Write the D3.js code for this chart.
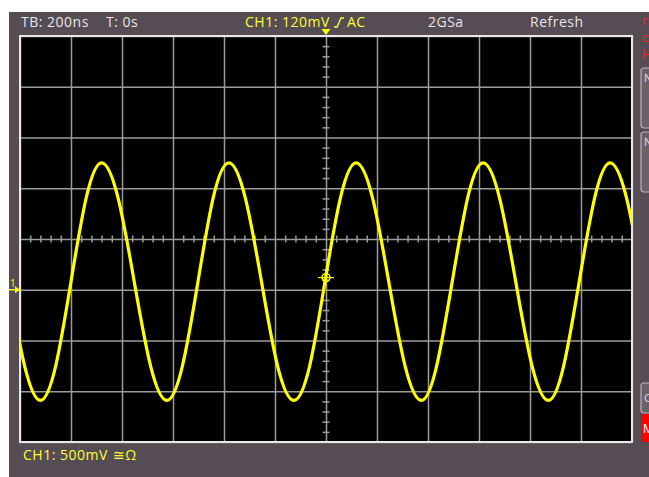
<!DOCTYPE html>
<html><head><meta charset="utf-8">
<script src="https://cdn.jsdelivr.net/npm/d3@7"></script>
<style>html,body{margin:0;padding:0;background:#fff;}svg{display:block;}</style>
</head><body>
<script>
// ---- data read from the screen ----
// time in ns relative to trigger, voltage in V relative to CH1 ground
const traceTime = [-1245,-1182,-1120,-1060,-1000,-940,-880,-816,-752,-688,-624,-563,-502,-442,-381,-317,-253,-190,-126,-64,-4,57,118,182,246,310,374,434,495,556,616,680,744,808,872,932,993,1054,1114,1178,1242];
const traceVolt = [0.08,-0.75,-1.09,-0.75,0.08,0.91,1.25,0.91,0.08,-0.75,-1.09,-0.75,0.08,0.91,1.25,0.91,0.08,-0.75,-1.09,-0.75,0.08,0.91,1.25,0.91,0.08,-0.75,-1.09,-0.75,0.08,0.91,1.25,0.91,0.08,-0.75,-1.09,-0.75,0.08,0.91,1.25,0.91,0.08];
const xDivs = [-1200,-1000,-800,-600,-400,-200,0,200,400,600,800,1000,1200];
const yDivs = [-1.5,-1.0,-0.5,0,0.5,1.0,1.5,2.0,2.5];
const xMinor = [-1160,-1120,-1080,-1040,-960,-920,-880,-840,-760,-720,-680,-640,-560,-520,-480,-440,-360,-320,-280,-240,-160,-120,-80,-40,40,80,120,160,240,280,320,360,440,480,520,560,640,680,720,760,840,880,920,960,1040,1080,1120,1160];
const yMinor = [-1.4,-1.3,-1.2,-1.1,-0.9,-0.8,-0.7,-0.6,-0.4,-0.3,-0.2,-0.1,0.1,0.2,0.3,0.4,0.6,0.7,0.8,0.9,1.1,1.2,1.3,1.4,1.6,1.7,1.8,1.9,2.1,2.2,2.3,2.4];
const triggerTime = 0, triggerLevel = 0.12, groundLevel = 0, centerTime = 0, centerVolt = 0.5;
const headerLeft = ["TB: 200ns", "T: 0s"];
const headerCh = "CH1: 120mV";
const headerCoupling = "AC";
const headerRate = "2GSa";
const headerMode = "Refresh";
const footerCh = "CH1: 500mV";
const footerSym = "≅Ω";

const W = 649, H = 477;
const svg = d3.select("body").append("svg").attr("width", W).attr("height", H);
const panel = "#554c54";
svg.append("rect").attr("x",0).attr("y",0).attr("width",W).attr("height",H).attr("fill","#fff");
svg.append("rect").attr("x",9).attr("y",12).attr("width",W-9).attr("height",H-12).attr("fill",panel);

const L = 20, R = 632, T = 36, B = 442;
const x = d3.scaleLinear().domain([-1200,1200]).range([L,R]);
const y = d3.scaleLinear().domain([-1.5,2.5]).range([B,T]);

svg.append("rect").attr("x",L).attr("y",T).attr("width",R-L).attr("height",B-T).attr("fill","#000");

const font = "'Open Sans', 'DejaVu Sans', sans-serif";
const gridCol = "#9c9c9c";

// grid via axes
const gx = svg.append("g").attr("transform",`translate(0,${B})`)
  .call(d3.axisBottom(x).tickValues(xDivs).tickSize(-(B-T)).tickFormat(""));
const gy = svg.append("g").attr("transform",`translate(${L},0)`)
  .call(d3.axisLeft(y).tickValues(yDivs).tickSize(-(R-L)).tickFormat(""));
[gx,gy].forEach(g=>{g.select(".domain").remove();g.selectAll("line").attr("stroke",gridCol).attr("stroke-width",1.5);});

// minor ticks on center axes
const cy = y(centerVolt), cx = x(centerTime);
svg.append("g").attr("transform",`translate(0,${cy+3.5})`)
  .call(d3.axisTop(x).tickValues(xMinor).tickSize(7).tickFormat(""))
  .call(g=>{g.select(".domain").remove();g.selectAll("line").attr("stroke",gridCol).attr("stroke-width",1.5);});
svg.append("g").attr("transform",`translate(${cx-3.5},0)`)
  .call(d3.axisRight(y).tickValues(yMinor).tickSize(7).tickFormat(""))
  .call(g=>{g.select(".domain").remove();g.selectAll("line").attr("stroke",gridCol).attr("stroke-width",1.5);});

// border
svg.append("rect").attr("x",L).attr("y",T).attr("width",R-L).attr("height",B-T)
  .attr("fill","none").attr("stroke","#e8e8e8").attr("stroke-width",2);

// trace
svg.append("clipPath").attr("id","clip").append("rect").attr("x",L).attr("y",T).attr("width",R-L).attr("height",B-T);
const pts = traceTime.map((t,i)=>[t,traceVolt[i]]);
svg.append("path").attr("clip-path","url(#clip)")
  .attr("d", d3.line().x(d=>x(d[0])).y(d=>y(d[1])).curve(d3.curveNatural)(pts))
  .attr("fill","none").attr("stroke","#ffff00").attr("stroke-width",3.2).attr("stroke-linejoin","round");

// trigger point marker
const tx = x(triggerTime), ty = y(triggerLevel);
svg.append("circle").attr("cx",tx).attr("cy",ty).attr("r",4).attr("fill","none").attr("stroke","#ffff00").attr("stroke-width",1.5);
svg.append("line").attr("x1",tx-8).attr("x2",tx+8).attr("y1",ty).attr("y2",ty).attr("stroke","#ffff00").attr("stroke-width",1.2);

// ground marker
const gyPos = y(groundLevel);
svg.append("text").attr("x",10).attr("y",gyPos-3).text("1").attr("fill","#ffff00").attr("font-family",font).attr("font-size",10);
svg.append("line").attr("x1",9).attr("x2",17).attr("y1",gyPos).attr("y2",gyPos).attr("stroke","#ffff00").attr("stroke-width",1.5);
svg.append("path").attr("d",`M${15},${gyPos-3.5}L${20},${gyPos}L${15},${gyPos+3.5}Z`).attr("fill","#ffff00");

// trigger time marker at top
svg.append("path").attr("d",`M${tx-4.5},${T-7}L${tx+4.5},${T-7}L${tx},${T-1}Z`).attr("fill","#ffff00");

// header text
const ht = (txt,xx,col,yy=27)=>svg.append("text").attr("x",xx).attr("y",yy).text(txt).attr("fill",col)
  .attr("font-family",font).attr("font-size",14).attr("letter-spacing",0.5);
ht(headerLeft[0],21,"#e6e6e6");
ht(headerLeft[1],106,"#e6e6e6");
ht(headerCh,245,"#ffff33");
svg.append("path").attr("d","M334,27 h3 l4,-9 h3").attr("fill","none").attr("stroke","#ffff33").attr("stroke-width",1.4);
ht(headerCoupling,347,"#ffff33");
ht(headerRate,428,"#e6e6e6");
ht(headerMode,530,"#e6e6e6");

// footer
ht(footerCh,23,"#ffff33",460);
ht(footerSym,113,"#ffff33",460);

// right side cut-off softkeys
[["r",25],["c",42],["H",59]].forEach(([s,yy])=>svg.append("text").attr("x",642).attr("y",yy).text(s)
  .attr("fill","#ff2020").attr("font-family",font).attr("font-size",13));
[[68,128,"N"],[132,192,"N"]].forEach(([a,b,s])=>{
  svg.append("rect").attr("x",641).attr("y",a).attr("width",14).attr("height",b-a).attr("rx",3)
    .attr("fill","#6a6169").attr("stroke","#b9b3b8").attr("stroke-width",1.2);
  svg.append("text").attr("x",644).attr("y",a+14).text(s).attr("fill","#e0e0e0").attr("font-family",font).attr("font-size",11);
});
svg.append("rect").attr("x",641).attr("y",383).attr("width",14).attr("height",30).attr("rx",3)
  .attr("fill","#6a6169").attr("stroke","#b9b3b8").attr("stroke-width",1.2);
svg.append("text").attr("x",644).attr("y",402).text("C").attr("fill","#e0e0e0").attr("font-family",font).attr("font-size",11);
svg.append("rect").attr("x",641).attr("y",414).attr("width",14).attr("height",28).attr("rx",3).attr("fill","#ff0000");
svg.append("text").attr("x",643).attr("y",433).text("M").attr("fill","#ffffff").attr("font-family",font).attr("font-size",12);
</script>
</body></html>
